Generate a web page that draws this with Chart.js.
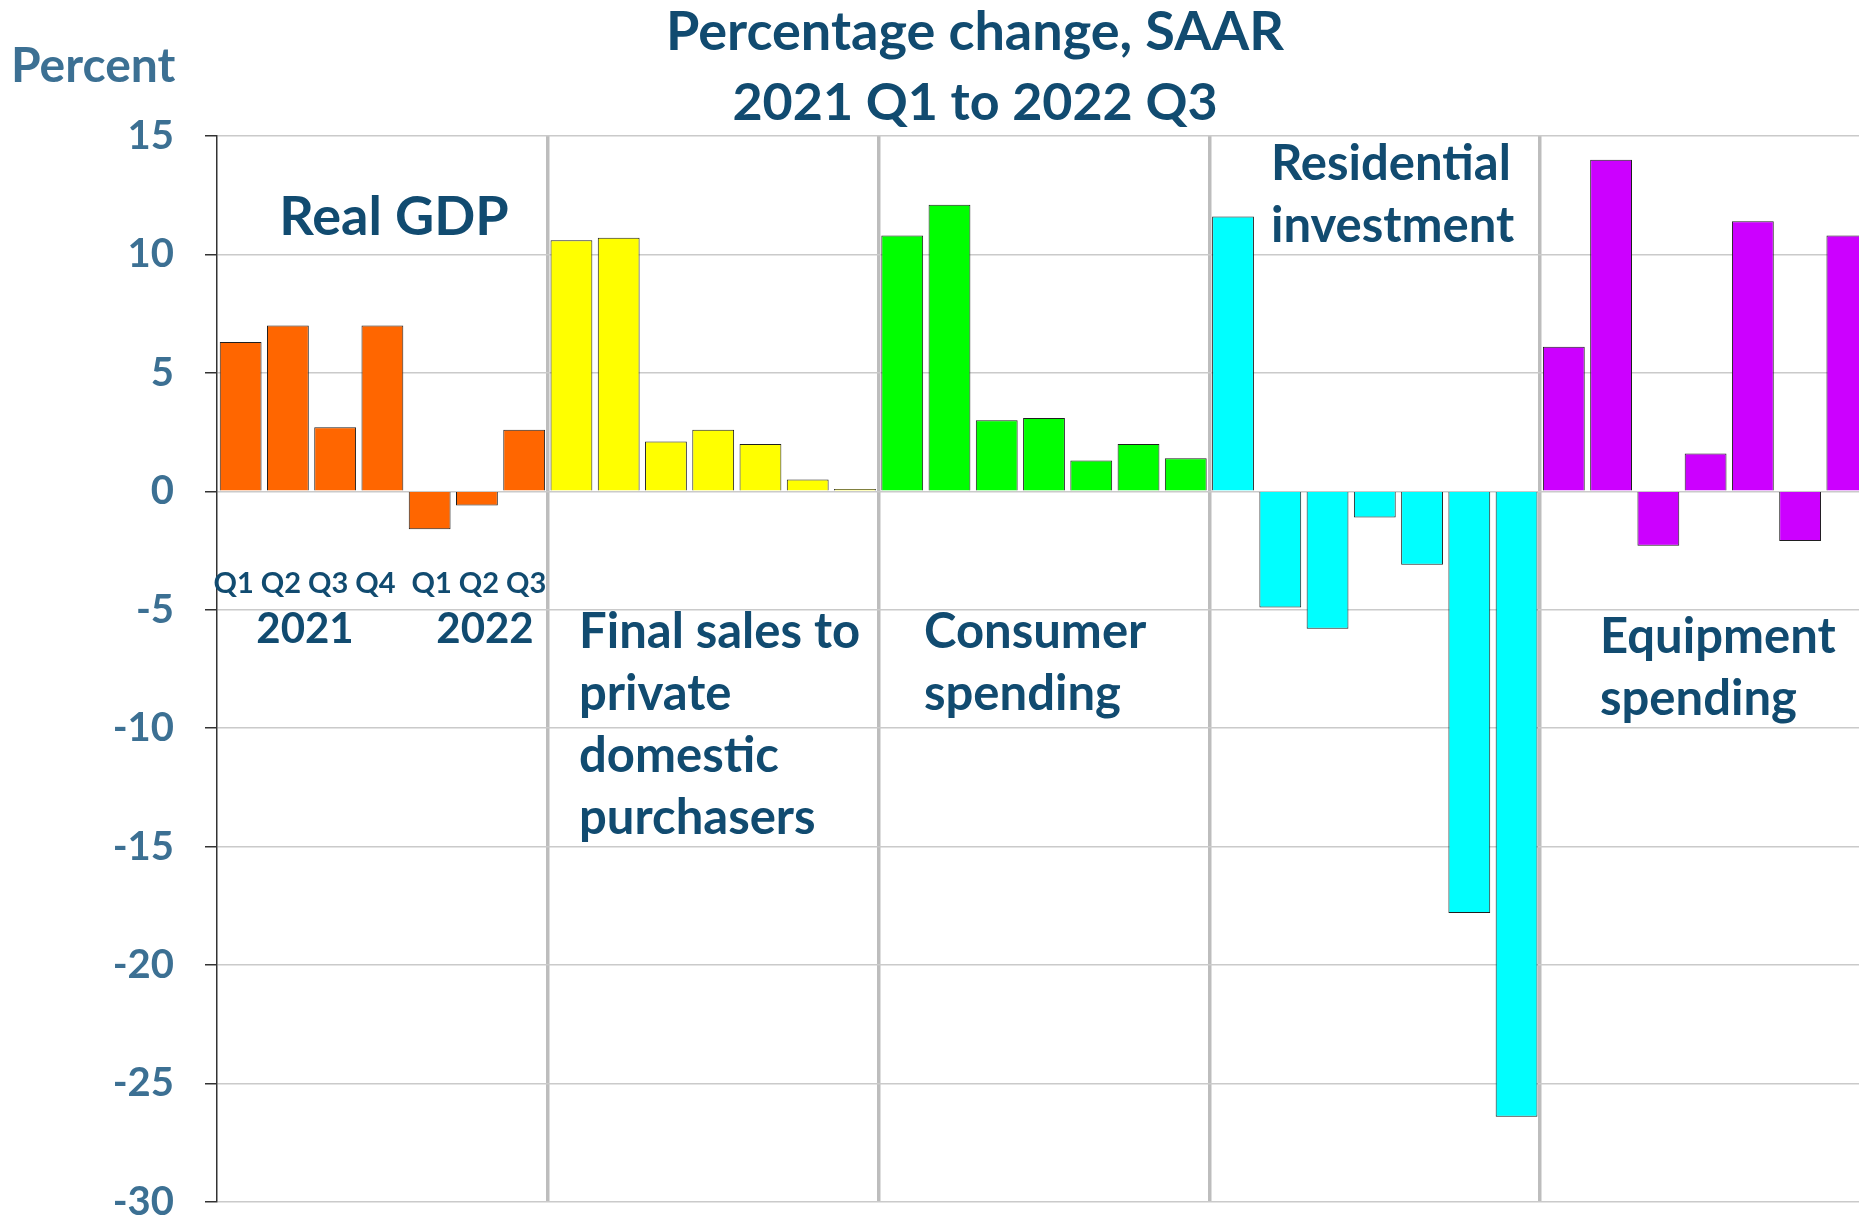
<!DOCTYPE html>
<html lang="en">
  <head>
    <meta charset="UTF-8" />
    <title>Percentage change, SAAR</title>
    <script src="https://cdn.jsdelivr.net/npm/chart.js"></script>
    <style>
      html, body {
        margin: 0;
        padding: 0;
        background: #ffffff;
        overflow: hidden;
      }
      #chartContainer {
        width: 1859px;
        height: 1215px;
        overflow: hidden;
      }
    </style>
  </head>
  <body>
    <div id="chartContainer">
      <canvas id="myChart" width="1872" height="1257"></canvas>
    </div>
    <script>
      // quarters 2021 Q1 .. 2022 Q3
      const quarters = ["2021 Q1", "2021 Q2", "2021 Q3", "2021 Q4", "2022 Q1", "2022 Q2", "2022 Q3"];
      const quarterTicks = ["Q1", "Q2", "Q3", "Q4", "Q1", "Q2", "Q3"];
      const yTicks = [15, 10, 5, 0, -5, -10, -15, -20, -25, -30];

      const realGdp = [6.3, 7.0, 2.7, 7.0, -1.6, -0.6, 2.6];
      const finalSales = [10.6, 10.7, 2.1, 2.6, 2.0, 0.5, 0.1];
      const consumerSpending = [10.8, 12.1, 3.0, 3.1, 1.3, 2.0, 1.4];
      const residentialInvestment = [11.6, -4.9, -5.8, -1.1, -3.1, -17.8, -26.4];
      const equipmentSpending = [6.1, 14.0, -2.3, 1.6, 11.4, -2.1, 10.8];

      const groupColors = ["#ff6600", "#ffff00", "#00ff00", "#00ffff", "#cc00ff"];

      const titleColor = "#114b70";
      const tickColor = "#3c7093";
      const font = "Lato, 'Noto Sans', sans-serif";

      const groups = [realGdp, finalSales, consumerSpending, residentialInvestment, equipmentSpending];
      const labels = [];
      const values = [];
      const colors = [];
      groups.forEach(function (g, gi) {
        g.forEach(function (v, i) {
          labels.push(quarters[i]);
          values.push(v);
          colors.push(groupColors[gi]);
        });
      });

      function text(ctx, str, x, y, size, align, color) {
        ctx.font = "bold " + size + "px " + font;
        ctx.textAlign = align;
        ctx.textBaseline = "alphabetic";
        ctx.fillStyle = color || titleColor;
        ctx.fillText(str, x, y);
      }

      const annotations = {
        id: "annotations",
        afterDraw: function (chart) {
          const ctx = chart.ctx;
          const x = chart.scales.x;
          ctx.save();
          text(ctx, "Percentage change, SAAR", 975, 50, 54, "center");
          text(ctx, "2021 Q1 to 2022 Q3", 975, 120, 52, "center");
          text(ctx, "Percent", 11, 82, 48, "left", tickColor);

          text(ctx, "Real GDP", 394, 235, 54, "center");
          quarterTicks.forEach(function (q, i) {
            const shift = i < 4 ? -7 : 2;
            text(ctx, q, x.getPixelForValue(i) + shift, 593, 29, "center");
          });
          text(ctx, "2021", 305, 643, 42, "center");
          text(ctx, "2022", 485, 643, 42, "center");

          ["Final sales to", "private", "domestic", "purchasers"].forEach(function (s, i) {
            text(ctx, s, 579, 648 + i * 62, 49, "left");
          });
          ["Consumer", "spending"].forEach(function (s, i) {
            text(ctx, s, 924, 648 + i * 62, 49, "left");
          });
          ["Residential", "investment"].forEach(function (s, i) {
            text(ctx, s, 1271, 180 + i * 62, 49, "left");
          });
          ["Equipment", "spending"].forEach(function (s, i) {
            text(ctx, s, 1600, 653 + i * 62, 49, "left");
          });
          ctx.restore();
        },
      };

      const ctx = document.getElementById("myChart").getContext("2d");

      new Chart(ctx, {
        type: "bar",
        data: {
          labels: labels,
          datasets: [
            {
              label: "Percent",
              data: values,
              backgroundColor: colors,
              borderColor: "#1f1f1f",
              borderWidth: 1,
              barPercentage: 0.885,
              categoryPercentage: 1.0,
            },
          ],
        },
        options: {
          responsive: false,
          animation: false,
          devicePixelRatio: 1,
          layout: {
            padding: { left: 0, right: 1, top: 136, bottom: 40 },
          },
          scales: {
            x: {
              afterFit: function (scale) {
                scale.height = 0;
              },
              ticks: { display: false },
              border: { display: false },
              grid: {
                drawTicks: false,
                lineWidth: 3.5,
                color: function (c) {
                  return c.index % 7 === 0 && c.index > 0 && c.index < 35 ? "#bdbdbd" : "rgba(0,0,0,0)";
                },
              },
            },
            y: {
              min: -30,
              max: 15,
              afterFit: function (scale) {
                scale.width = 217;
              },
              afterBuildTicks: function (scale) {
                scale.ticks = yTicks.map(function (v) {
                  return { value: v };
                });
              },
              border: { display: true, color: "#333333", width: 1.5 },
              grid: {
                color: "#cacaca",
                lineWidth: 1.5,
                tickColor: "#333333",
                tickLength: 12,
              },
              ticks: {
                padding: 31,
                color: tickColor,
                font: { family: font, size: 40, weight: "bold" },
              },
            },
          },
          plugins: {
            legend: { display: false },
            title: { display: false },
            tooltip: { enabled: false },
          },
        },
        plugins: [annotations],
      });
    </script>
  </body>
</html>
